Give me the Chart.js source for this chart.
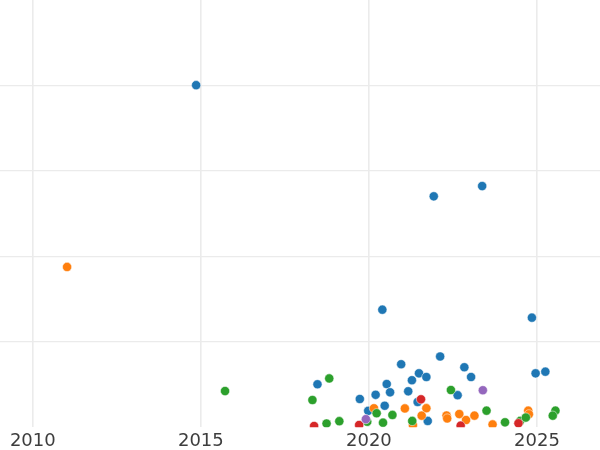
<!DOCTYPE html>
<html>
<head>
<meta charset="utf-8">
<script src="https://cdn.jsdelivr.net/npm/chart.js@4/dist/chart.umd.min.js"></script>
<style>
  html, body { margin: 0; padding: 0; background: #fff; }
  #wrap { width: 600px; height: 450px; }
</style>
</head>
<body>
<div id="wrap"><canvas id="chart" width="600" height="450"></canvas></div>
<script>
// Values (x = year, y = unitless; gridline spacing = 1)
const xTicks = [2010, 2015, 2020, 2025];

const blueX = [2014.86, 2021.93, 2023.37, 2020.40, 2024.85, 2018.47, 2019.73, 2020.20, 2020.53, 2020.63,
               2020.47, 2019.98, 2020.96, 2021.17, 2021.28, 2021.49, 2021.71, 2022.12, 2021.45, 2021.75,
               2022.64, 2022.84, 2023.04, 2024.96, 2025.25];
const blueY = [4.00, 2.70, 2.82, 1.374, 1.281, 0.502, 0.330, 0.379, 0.505, 0.408,
               0.251, 0.191, 0.736, 0.420, 0.549, 0.630, 0.587, 0.827, 0.295, 0.073,
               0.374, 0.701, 0.587, 0.630, 0.649];

const orangeX = [2011.02, 2020.15, 2021.07, 2021.71, 2021.57, 2021.31, 2022.31, 2022.33, 2022.69, 2022.89,
                 2023.14, 2023.68, 2024.74, 2024.76];
const orangeY = [1.874, 0.221, 0.219, 0.222, 0.135, 0.026, 0.137, 0.102, 0.154, 0.084,
                 0.135, 0.032, 0.193, 0.151];

const greenX = [2015.72, 2018.82, 2018.32, 2018.74, 2019.12, 2020.23, 2019.95, 2020.70, 2020.42, 2021.29,
                2022.44, 2023.50, 2024.05, 2024.50, 2024.67, 2025.55, 2025.47];
const greenY = [0.423, 0.570, 0.318, 0.043, 0.070, 0.163, 0.064, 0.143, 0.053, 0.073,
                0.435, 0.193, 0.057, 0.073, 0.113, 0.193, 0.135];

const redX = [2018.37, 2019.71, 2021.55, 2022.73, 2024.45];
const redY = [0.014, 0.026, 0.326, 0.018, 0.046];

const purpleX = [2019.91, 2023.39];
const purpleY = [0.094, 0.432];

function pts(xs, ys) {
    return xs.map((x, i) => ({ x: x, y: ys[i] }));
}

function series(xs, ys, color, order) {
    return {
        data: pts(xs, ys),
        backgroundColor: color,
        borderColor: '#ffffff',
        borderWidth: 0.5,
        pointRadius: 4.6,
        clip: 0,
        order: order
    };
}

new Chart(document.getElementById('chart'), {
    type: 'scatter',
    data: {
        datasets: [
            series(blueX, blueY, '#1f77b4', 5),
            series(orangeX, orangeY, '#ff7f0e', 4),
            series(greenX, greenY, '#2ca02c', 3),
            series(redX, redY, '#d62728', 2),
            series(purpleX, purpleY, '#9467bd', 1)
        ]
    },
    options: {
        responsive: false,
        animation: false,
        events: [],
        layout: { padding: 0, autoPadding: false },
        plugins: { legend: { display: false }, tooltip: { enabled: false } },
        scales: {
            x: {
                type: 'linear',
                min: 2009.024,
                max: 2026.876,
                border: { display: false },
                grid: { color: '#ebebeb', lineWidth: 1.6, drawTicks: false },
                afterBuildTicks: axis => { axis.ticks = xTicks.map(v => ({ value: v })); },
                afterFit: axis => { axis.height = 22.8; },
                ticks: {
                    padding: 5,
                    color: '#3d3d3d',
                    font: { family: 'DejaVu Sans', size: 18, lineHeight: 1 },
                    callback: v => String(v)
                }
            },
            y: {
                min: 0,
                max: 4.996,
                border: { display: false },
                grid: {
                    color: ctx => (ctx.tick && ctx.tick.value === 0) ? 'rgba(0,0,0,0)' : '#ebebeb',
                    lineWidth: 1.2,
                    drawTicks: false
                },
                ticks: { display: false, stepSize: 1, includeBounds: false }
            }
        }
    }
});
</script>
</body>
</html>
